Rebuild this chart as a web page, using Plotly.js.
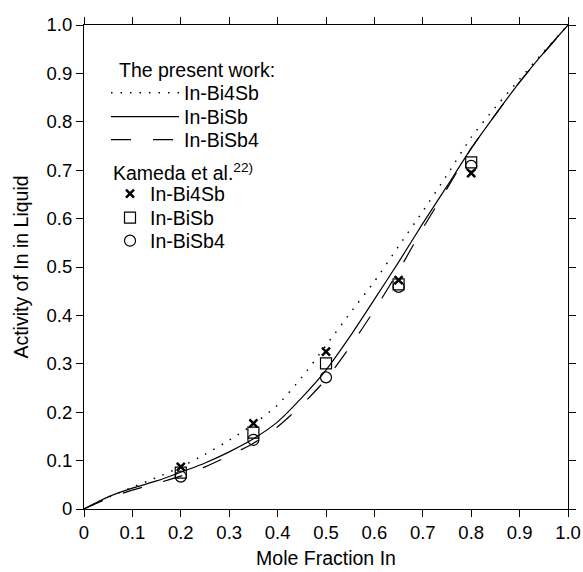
<!DOCTYPE html>
<html><head><meta charset="utf-8">
<script src="https://cdn.plot.ly/plotly-3.0.1.min.js"></script>
<style>body{margin:0;background:#fff}</style>
</head><body><div id="chart" style="width:583px;height:572px"></div>
<script>
const xGrid = [0,0.05,0.1,0.15,0.2,0.25,0.3,0.35,0.4,0.45,0.5,0.55,0.6,0.65,0.7,0.75,0.8,0.85,0.9,0.95,1.0];
const actBi4Sb = [0,0.024,0.045,0.065,0.087,0.113,0.142,0.175,0.215,0.272,0.338,0.405,0.47,0.543,0.615,0.69,0.768,0.83,0.888,0.945,1.0];
const actBiSb  = [0,0.025,0.043,0.058,0.076,0.095,0.118,0.145,0.180,0.230,0.287,0.357,0.433,0.51,0.59,0.667,0.745,0.815,0.882,0.943,1.0];
const actBiSb4 = [0,0.022,0.039,0.053,0.068,0.087,0.110,0.136,0.170,0.215,0.268,0.336,0.411,0.492,0.58,0.662,0.745,0.815,0.882,0.942,1.0];
const expX = [0.2,0.35,0.5,0.65,0.8];
const expBi4Sb = [0.087,0.177,0.325,0.473,0.694];
const expBiSb  = [0.075,0.158,0.301,0.464,0.716];
const expBiSb4 = [0.067,0.143,0.272,0.459,0.709];
const seriesNames = ['In-Bi4Sb','In-BiSb','In-BiSb4'];
const groupTitles = ['The present work:','Kameda et al.<sup>22)</sup>'];
const tickVals = [0,0.1,0.2,0.3,0.4,0.5,0.6,0.7,0.8,0.9,1.0];
const tickText = ['0','0.1','0.2','0.3','0.4','0.5','0.6','0.7','0.8','0.9','1.0'];

const font = 'Liberation Sans, Arial, Helvetica, sans-serif';
const traces = [
  {x:xGrid, y:actBi4Sb, name:seriesNames[0], mode:'lines', line:{color:'#000', width:1.5, dash:'1.5px,8px', shape:'spline', smoothing:0.6}, legend:'legend'},
  {x:xGrid, y:actBiSb, name:seriesNames[1], mode:'lines', line:{color:'#000', width:1.2, shape:'spline', smoothing:0.6}, legend:'legend2'},
  {x:xGrid, y:actBiSb4, name:seriesNames[2], mode:'lines', line:{color:'#000', width:1.2, dash:'20px,22px', shape:'spline', smoothing:0.6}, legend:'legend3'},
  {x:expX, y:expBi4Sb, name:seriesNames[0], mode:'markers', marker:{symbol:'x-thin-open', size:8, line:{color:'#000', width:2.5}, color:'#000'}, legend:'legend4'},
  {x:expX, y:expBiSb, name:seriesNames[1], mode:'markers', marker:{symbol:'square-open', size:11, line:{color:'#000', width:1.2}, color:'#000'}, legend:'legend5'},
  {x:expX, y:expBiSb4, name:seriesNames[2], mode:'markers', marker:{symbol:'circle-open', size:11, line:{color:'#000', width:1.2}, color:'#000'}, legend:'legend6'}
];
const axisCommon = {
  range:[0,1], tickvals:tickVals, ticktext:tickText, ticks:'outside', ticklen:7, tickwidth:1, tickcolor:'#000',
  showline:true, linecolor:'#000', linewidth:1, mirror:'ticks', showgrid:false, zeroline:false,
  tickfont:{family:font, size:18.5, color:'#000'}
};
// plot area: x 84..568, y 25..509 (484 px each)
const px2x = p => (p - 84) / 484;
const py2y = p => (509 - p) / 484;
function mkLegend(xp, yp, iw) {
  return {x:px2x(xp), y:py2y(yp), xanchor:'left', yanchor:'middle', bgcolor:'rgba(0,0,0,0)', borderwidth:0,
    font:{family:font, size:19.5, color:'#000'}, itemwidth:iw, tracegroupgap:0, itemclick:false};
}
const layout = {
  width:583, height:572,
  margin:{l:84, r:15, t:25, b:63},
  paper_bgcolor:'#fff', plot_bgcolor:'#fff',
  font:{family:font, color:'#000'},
  xaxis:Object.assign({}, axisCommon, {title:{text:'Mole Fraction In', font:{family:font, size:19.5, color:'#000'}, standoff:9}}),
  yaxis:Object.assign({}, axisCommon, {title:{text:'Activity of In in Liquid', font:{family:font, size:19.5, color:'#000'}, standoff:12}}),
  legend: mkLegend(106, 93, 68),
  legend2: mkLegend(106, 117, 68),
  legend3: mkLegend(106, 140, 68),
  legend4: mkLegend(110, 194, 30),
  legend5: mkLegend(110, 218, 30),
  legend6: mkLegend(110, 241, 30),
  annotations:[
    {xref:'paper', yref:'paper', x:px2x(117), y:py2y(70), xanchor:'left', yanchor:'middle', showarrow:false,
     text:groupTitles[0], font:{family:font, size:19.5, color:'#000'}},
    {xref:'paper', yref:'paper', x:px2x(111), y:py2y(172), xanchor:'left', yanchor:'middle', showarrow:false,
     text:groupTitles[1], font:{family:font, size:19.5, color:'#000'}}
  ],
  showlegend:true
};
Plotly.newPlot('chart', traces, layout, {displayModeBar:false, staticPlot:true});
</script></body></html>
